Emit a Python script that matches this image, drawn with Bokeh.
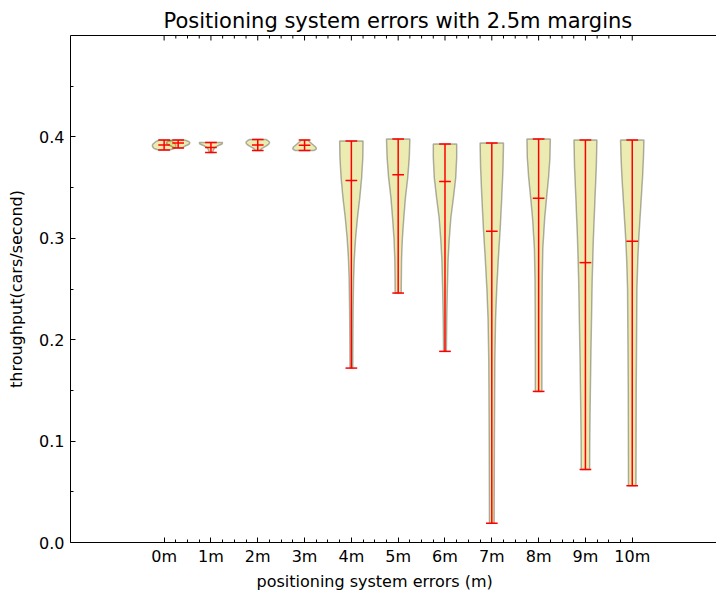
import math
from bokeh.plotting import figure
from bokeh.models import Range1d, LinearAxis, FixedTicker, PrintfTickFormatter, Title
from bokeh.embed import file_html
from bokeh.resources import INLINE

# ---- data ----
x_labels = ["0m", "1m", "2m", "3m", "4m", "5m", "6m", "7m", "8m", "9m", "10m"]
label_positions = [0, 1, 2, 3, 4, 5, 6, 7, 8, 9, 10]

positions = [0.0, 0.3, 1, 2, 3, 4, 5, 6, 7, 8, 9, 10]
maxima = [0.397, 0.397, 0.3944, 0.3975, 0.397, 0.396, 0.398, 0.393, 0.394, 0.398, 0.397, 0.397]
medians = [0.392, 0.394, 0.3895, 0.392, 0.3918, 0.357, 0.3626, 0.356, 0.307, 0.3396, 0.276, 0.297]
minima = [0.387, 0.389, 0.3845, 0.3865, 0.3865, 0.172, 0.246, 0.1885, 0.019, 0.149, 0.072, 0.056]

# density profile (value levels and relative width) of each violin
profile_values = [
    [0.387, 0.388, 0.389, 0.390, 0.391, 0.392, 0.393, 0.394, 0.395, 0.396, 0.397],
    [0.389, 0.390, 0.391, 0.392, 0.393, 0.394, 0.395, 0.396, 0.397],
    [0.3845, 0.386, 0.387, 0.388, 0.389, 0.390, 0.391, 0.392, 0.393, 0.3944],
    [0.3865, 0.388, 0.389, 0.390, 0.391, 0.392, 0.393, 0.394, 0.395, 0.396, 0.3975],
    [0.3865, 0.388, 0.389, 0.390, 0.391, 0.392, 0.393, 0.394, 0.395, 0.396, 0.397],
    [0.172, 0.20, 0.23, 0.26, 0.28, 0.30, 0.32, 0.34, 0.36, 0.38, 0.396],
    [0.246, 0.26, 0.28, 0.30, 0.32, 0.34, 0.36, 0.38, 0.398],
    [0.1885, 0.22, 0.25, 0.28, 0.30, 0.32, 0.34, 0.36, 0.38, 0.393],
    [0.019, 0.06, 0.10, 0.14, 0.18, 0.22, 0.25, 0.28, 0.31, 0.34, 0.37, 0.394],
    [0.149, 0.18, 0.22, 0.26, 0.29, 0.32, 0.34, 0.36, 0.38, 0.398],
    [0.072, 0.10, 0.14, 0.18, 0.22, 0.26, 0.30, 0.34, 0.37, 0.397],
    [0.056, 0.10, 0.15, 0.20, 0.25, 0.28, 0.30, 0.33, 0.36, 0.38, 0.397],
]
profile_density = [
    [0.45, 0.75, 0.9, 0.97, 1.0, 1.0, 0.95, 0.85, 0.75, 0.6, 0.4],
    [0.3, 0.45, 0.6, 0.8, 0.95, 1.0, 0.95, 0.8, 0.55],
    [0.15, 0.18, 0.2, 0.25, 0.3, 0.4, 0.55, 0.75, 0.95, 1.0],
    [0.2, 0.3, 0.4, 0.55, 0.7, 0.85, 0.95, 1.0, 1.0, 0.9, 0.7],
    [0.8, 1.0, 1.0, 0.95, 0.85, 0.75, 0.65, 0.55, 0.45, 0.35, 0.3],
    [0.12, 0.13, 0.15, 0.19, 0.25, 0.36, 0.52, 0.72, 0.88, 0.98, 1.0],
    [0.26, 0.27, 0.29, 0.36, 0.48, 0.62, 0.82, 0.95, 1.0],
    [0.12, 0.15, 0.2, 0.27, 0.37, 0.5, 0.72, 0.92, 1.0, 1.0],
    [0.2, 0.21, 0.22, 0.24, 0.26, 0.32, 0.42, 0.56, 0.72, 0.85, 0.96, 1.0],
    [0.28, 0.28, 0.29, 0.31, 0.36, 0.52, 0.68, 0.85, 0.97, 1.0],
    [0.36, 0.37, 0.41, 0.46, 0.52, 0.58, 0.68, 0.82, 0.93, 0.98],
    [0.32, 0.33, 0.34, 0.37, 0.4, 0.48, 0.56, 0.72, 0.88, 0.96, 1.0],
]

y_major = [0.0, 0.1, 0.2, 0.3, 0.4]
y_minor = [0.05, 0.15, 0.25, 0.35, 0.45]
x_minor = [i * 0.25 for i in range(41)]

Y_TOP = 0.5
VIOLIN_WIDTH = 0.5
FONT = "DejaVu Sans"

p = figure(width=716, height=591, x_range=Range1d(-2, 11.8), y_range=Range1d(0, Y_TOP),
           output_backend="svg", toolbar_location=None, title=None,
           x_axis_type=None, y_axis_type=None,
           min_border_left=70, min_border_right=0, min_border_top=35, min_border_bottom=49)
p.outline_line_color = None
p.xgrid.visible = False
p.ygrid.visible = False
p.background_fill_color = "white"
p.border_fill_color = "white"

# violin bodies
xs, ys = [], []
for c, vals, dens in zip(positions, profile_values, profile_density):
    half = [VIOLIN_WIDTH / 2 * d for d in dens]
    xs.append([c + h for h in half] + [c - h for h in reversed(half)])
    ys.append(list(vals) + list(reversed(vals)))
p.patches(xs, ys, fill_color="#bfbf00", fill_alpha=0.3, line_color="black", line_alpha=0.3, line_width=1.5)

# red bars, caps, medians
cap = VIOLIN_WIDTH / 4
p.segment(x0=positions, y0=minima, x1=positions, y1=maxima, line_color="red", line_width=1.5)
for arr in (minima, maxima, medians):
    p.segment(x0=[c - cap for c in positions], y0=arr, x1=[c + cap for c in positions], y1=arr,
              line_color="red", line_width=1.5)

# inward ticks on the top spine (half of each dash is clipped by the frame)
major_top = [t for t in label_positions]
minor_top = [t for t in x_minor if t not in label_positions]
p.scatter(x=major_top, y=[Y_TOP] * len(major_top), marker="dash", size=10, angle=math.pi / 2,
          line_color="black", line_width=1)
p.scatter(x=minor_top, y=[Y_TOP] * len(minor_top), marker="dash", size=6, angle=math.pi / 2,
          line_color="black", line_width=1)

def style_axis(ax):
    ax.axis_line_color = "black"
    ax.axis_line_width = 1
    ax.major_tick_in = 5
    ax.major_tick_out = 0
    ax.minor_tick_in = 3
    ax.minor_tick_out = 0
    ax.major_tick_line_color = "black"
    ax.minor_tick_line_color = "black"
    ax.major_label_text_font = FONT
    ax.major_label_text_font_size = "16px"
    ax.major_label_text_color = "black"
    ax.axis_label_text_font = FONT
    ax.axis_label_text_font_size = "16px"
    ax.axis_label_text_font_style = "normal"
    ax.axis_label_text_color = "black"

xticker = FixedTicker(ticks=label_positions, minor_ticks=x_minor)
yticker = FixedTicker(ticks=y_major, minor_ticks=y_minor)

left = LinearAxis(ticker=yticker, formatter=PrintfTickFormatter(format="%.1f"),
                  axis_label="throughput(cars/second)")
style_axis(left)
left.major_label_standoff = 6
left.axis_label_standoff = 10
p.add_layout(left, "left")

bottom = LinearAxis(ticker=xticker)
style_axis(bottom)
bottom.major_label_overrides = {pos: lab for pos, lab in zip(label_positions, x_labels)}
bottom.major_label_standoff = 4
p.add_layout(bottom, "below")

top = LinearAxis(ticker=FixedTicker(ticks=[], minor_ticks=[]))
style_axis(top)
p.add_layout(top, "above")

xlab = Title(text="positioning system errors (m)", align="left", offset=186,
             text_font=FONT, text_font_size="16px", text_font_style="normal", text_color="black",
             standoff=2)
p.add_layout(xlab, "below")

ttl = Title(text="Positioning system errors with 2.5m margins", align="left", offset=93,
            text_font=FONT, text_font_size="21px", text_font_style="normal", text_color="black",
            standoff=5)
p.add_layout(ttl, "above")

open("out.html", "w").write(file_html(p, INLINE))
